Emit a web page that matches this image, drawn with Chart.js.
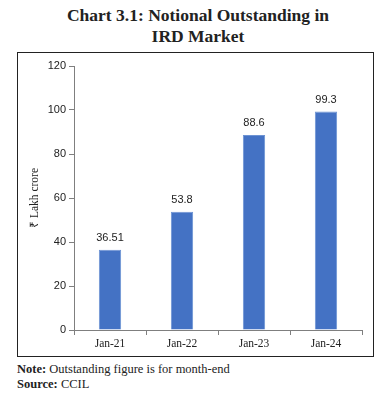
<!DOCTYPE html>
<html>
<head>
<meta charset="utf-8">
<script src="https://cdn.jsdelivr.net/npm/chart.js@4"></script>
<style>
  body { margin: 0; background: #fff; width: 388px; height: 397px; position: relative; font-family: "Liberation Serif", serif; }
  #title { position: absolute; left: 17px; width: 362px; top: 5px; text-align: center; font-weight: bold; font-size: 17.5px; line-height: 21px; color: #222; }
  #box { position: absolute; left: 17px; top: 52px; width: 355px; height: 303px; border: 1px solid #222; }
  #notes { position: absolute; left: 17px; top: 362px; font-size: 12.5px; line-height: 15px; color: #222; }
</style>
</head>
<body>
<div id="title">Chart 3.1: Notional Outstanding in<br>IRD Market</div>
<div id="box"><canvas id="chart" width="355" height="303"></canvas></div>
<div id="notes"><b>Note:</b> Outstanding figure is for month-end<br><b>Source:</b> CCIL</div>
<script>
const categories = ['Jan-21', 'Jan-22', 'Jan-23', 'Jan-24'];
const outstanding = [36.51, 53.8, 88.6, 99.3];
const valueLabels = ['36.51', '53.8', '88.6', '99.3'];

// draws the numbers above the bars
const barLabels = {
  id: 'barLabels',
  afterDatasetsDraw(chart) {
    const ctx = chart.ctx;
    const meta = chart.getDatasetMeta(0);
    ctx.save();
    ctx.font = '11px "Liberation Sans", sans-serif';
    ctx.fillStyle = '#222';
    ctx.textAlign = 'center';
    ctx.textBaseline = 'middle';
    meta.data.forEach((bar, i) => {
      ctx.fillText(valueLabels[i], bar.x, bar.y - 12);
    });
    ctx.restore();
  }
};

new Chart(document.getElementById('chart'), {
  type: 'bar',
  data: {
    labels: categories,
    datasets: [{
      data: outstanding,
      backgroundColor: '#4472C4',
      borderColor: '#6d93d3',
      borderWidth: 1,
      categoryPercentage: 1,
      barPercentage: 0.31
    }]
  },
  options: {
    responsive: false,
    animation: false,
    layout: { padding: { top: 13, right: 11, left: 0, bottom: 0 } },
    plugins: { legend: { display: false }, tooltip: { enabled: false } },
    scales: {
      x: {
        afterFit(scale) { scale.height = 26; },
        grid: { drawOnChartArea: false, color: '#7f7f7f', tickLength: 5, offset: true },
        border: { color: '#7f7f7f' },
        ticks: { color: '#222', font: { family: '"Liberation Serif", serif', size: 11.5 }, padding: 2 }
      },
      y: {
        min: 0,
        max: 120,
        afterFit(scale) { scale.width = 56; },
        grid: { drawOnChartArea: false, color: '#7f7f7f', tickLength: 5 },
        border: { color: '#7f7f7f' },
        ticks: { stepSize: 20, color: '#222', font: { family: '"Liberation Sans", sans-serif', size: 11 }, padding: 3 },
        title: { display: true, text: '₹ Lakh crore', color: '#222', font: { family: '"Liberation Serif", serif', size: 11.5 }, padding: { top: 10, bottom: 0 } }
      }
    }
  },
  plugins: [barLabels]
});
</script>
</body>
</html>
